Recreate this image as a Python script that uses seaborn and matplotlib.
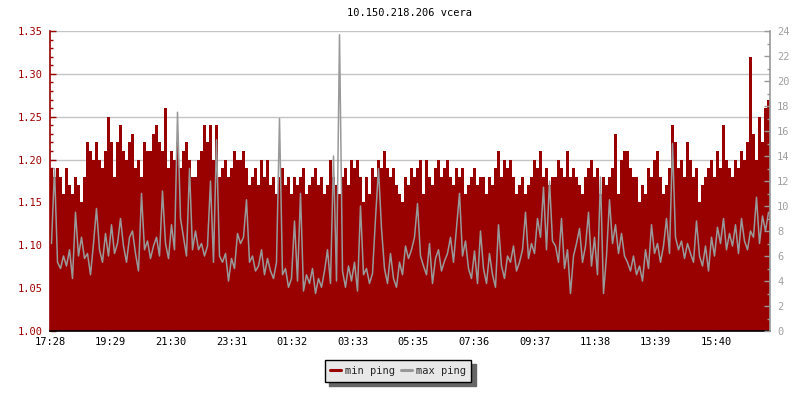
import numpy as np
import pandas as pd
import matplotlib
matplotlib.use("Agg")
import matplotlib.pyplot as plt
from matplotlib.lines import Line2D
from matplotlib.ticker import MultipleLocator
import seaborn as sns

title = "10.150.218.206 vcera"
tick_labels = ["17:28", "19:29", "21:30", "23:31", "01:32", "03:33",
               "05:35", "07:36", "09:37", "11:38", "13:39", "15:40"]
series_names = ["min ping", "max ping"]

# min ping (ms, left axis), one value per 6-minute slot over 24 h
min_ping = [
    1.19, 1.18, 1.19, 1.18, 1.16, 1.19, 1.17, 1.16, 1.18, 1.17, 1.15, 1.18,
    1.22, 1.21, 1.20, 1.22, 1.20, 1.19, 1.21, 1.25, 1.22, 1.18, 1.22, 1.24,
    1.21, 1.20, 1.22, 1.23, 1.19, 1.20, 1.18, 1.22, 1.21, 1.21, 1.23, 1.24,
    1.22, 1.21, 1.26, 1.19, 1.21, 1.20, 1.22, 1.19, 1.21, 1.22, 1.20, 1.18,
    1.18, 1.20, 1.21, 1.24, 1.22, 1.24, 1.20, 1.24, 1.18, 1.19, 1.20, 1.18,
    1.19, 1.21, 1.20, 1.20, 1.21, 1.19, 1.17, 1.18, 1.19, 1.17, 1.20, 1.18,
    1.20, 1.17, 1.18, 1.16, 1.18, 1.19, 1.17, 1.18, 1.16, 1.18, 1.17, 1.18,
    1.19, 1.16, 1.17, 1.18, 1.19, 1.17, 1.18, 1.16, 1.17, 1.20, 1.18, 1.17,
    1.16, 1.18, 1.19, 1.17, 1.20, 1.19, 1.20, 1.18, 1.15, 1.18, 1.16, 1.19,
    1.18, 1.20, 1.19, 1.21, 1.19, 1.18, 1.19, 1.17, 1.16, 1.15, 1.18, 1.17,
    1.19, 1.18, 1.19, 1.20, 1.16, 1.20, 1.18, 1.17, 1.19, 1.20, 1.18, 1.19,
    1.20, 1.18, 1.17, 1.19, 1.18, 1.19, 1.16, 1.17, 1.18, 1.19, 1.17, 1.18,
    1.18, 1.16, 1.18, 1.17, 1.19, 1.21, 1.18, 1.20, 1.19, 1.20, 1.18, 1.16,
    1.17, 1.18, 1.16, 1.17, 1.18, 1.20, 1.19, 1.21, 1.18, 1.19, 1.17, 1.18,
    1.18, 1.20, 1.19, 1.18, 1.21, 1.18, 1.19, 1.18, 1.17, 1.16, 1.18, 1.19,
    1.20, 1.18, 1.19, 1.16, 1.18, 1.17, 1.18, 1.19, 1.23, 1.16, 1.20, 1.21,
    1.21, 1.19, 1.18, 1.18, 1.15, 1.17, 1.16, 1.19, 1.18, 1.20, 1.21, 1.18,
    1.16, 1.17, 1.19, 1.24, 1.22, 1.19, 1.20, 1.18, 1.22, 1.20, 1.18, 1.19,
    1.15, 1.17, 1.18, 1.19, 1.20, 1.18, 1.21, 1.19, 1.24, 1.20, 1.19, 1.18,
    1.20, 1.19, 1.21, 1.20, 1.22, 1.32, 1.23, 1.20, 1.25, 1.22, 1.26, 1.27,
]

# max ping (ms, right axis), same slots
max_ping = [
    7.0, 13.0, 5.5, 5.0, 6.0, 5.2, 6.5, 4.2, 9.5, 6.0, 7.5, 5.8,
    6.2, 4.5, 7.0, 9.8, 6.5, 5.5, 7.8, 6.0, 8.5, 6.2, 7.0, 9.0,
    6.8, 5.5, 7.5, 8.0, 6.2, 4.8, 11.0, 6.5, 7.2, 5.8, 6.8, 7.5,
    6.0, 11.2, 7.0, 5.8, 8.5, 6.5, 17.5, 9.0, 7.5, 6.0, 13.0, 6.5,
    8.0, 6.5, 7.0, 6.0, 6.8, 12.0, 5.5, 15.3, 6.0, 5.5, 6.2, 4.0,
    5.8, 5.0, 7.8, 7.0, 7.5, 10.5, 5.5, 6.0, 4.8, 5.2, 6.5, 4.5,
    5.8, 4.8, 4.2, 5.5, 17.0, 4.5, 5.0, 3.5, 4.2, 8.8, 4.0, 11.0,
    3.2, 4.5, 3.8, 5.0, 3.0, 4.2, 3.5, 4.8, 6.5, 3.8, 14.0, 4.0,
    23.7, 4.8, 3.5, 5.2, 4.0, 5.5, 3.2, 10.0, 4.5, 5.0, 3.8, 4.6,
    9.0, 13.0, 8.2, 5.0, 3.8, 6.2, 4.2, 3.5, 5.5, 4.5, 6.8, 5.8,
    6.5, 7.5, 10.2, 6.0, 5.2, 4.5, 7.0, 3.8, 5.8, 6.5, 4.8, 5.6,
    6.2, 7.5, 5.5, 8.3, 11.0, 6.0, 7.2, 5.0, 4.2, 6.4, 3.8, 8.0,
    5.0, 3.8, 6.2, 4.5, 3.5, 8.5, 5.2, 4.2, 6.0, 5.5, 6.8, 4.8,
    5.5, 6.5, 9.5, 5.8, 7.0, 6.2, 9.0, 7.5, 11.5, 6.5, 12.0, 7.2,
    6.8, 5.5, 9.0, 5.0, 6.5, 3.0, 6.0, 7.0, 8.2, 5.5, 6.8, 9.5,
    5.2, 7.5, 4.5, 12.3, 3.0, 6.0, 10.5, 7.0, 8.5, 6.2, 7.8, 6.0,
    5.5, 4.8, 6.0, 4.5, 5.2, 4.0, 6.5, 5.0, 8.5, 6.2, 7.0, 5.5,
    6.8, 9.0, 6.2, 15.0, 7.5, 6.5, 7.2, 5.8, 7.0, 6.2, 5.5, 8.8,
    6.0, 5.2, 6.8, 4.8, 7.5, 6.0, 8.3, 7.0, 9.0, 6.5, 7.8, 6.8,
    8.5, 6.2, 9.0, 7.2, 6.5, 8.0, 7.5, 10.7, 7.0, 9.2, 8.0, 9.5,
]

# ---- style ----
sns.set_theme(style="white")
FS = 7.5
plt.rcParams["font.family"] = ["DejaVu Sans Mono"]
plt.rcParams["font.size"] = FS
plt.rcParams["xtick.labelsize"] = FS
plt.rcParams["ytick.labelsize"] = FS
plt.rcParams["legend.fontsize"] = FS

RED = "#990000"
RED_TXT = "#a00000"
GRAY = "#999999"
GRID = "#c4c4c4"

slot = 1440 / len(min_ping)
edges = np.arange(len(min_ping) + 1) * slot
df = pd.DataFrame({"t": edges[:-1] + slot / 2, "min": min_ping, "max": max_ping})

def to_min(lbl, start="17:28"):
    h, m = map(int, lbl.split(":"))
    h0, m0 = map(int, start.split(":"))
    return ((h * 60 + m) - (h0 * 60 + m0)) % 1440

tick_pos = [to_min(l) for l in tick_labels]

fig = plt.figure(figsize=(8, 4), dpi=100)
fig.patch.set_facecolor("white")
ax = fig.add_axes([50 / 800, 1 - 331 / 400, 720 / 800, 300 / 400])
ax.set_facecolor("white")

ax.fill_between(edges, 1.0, list(min_ping) + [min_ping[-1]], step="post",
                color=RED, linewidth=0, zorder=2)
ax.set_xlim(0, 1440)
ax.set_ylim(1.0, 1.35)
ax.yaxis.set_major_locator(MultipleLocator(0.05))
ax.yaxis.set_minor_locator(MultipleLocator(0.01))
ax.yaxis.set_major_formatter(matplotlib.ticker.FormatStrFormatter("%.2f"))
ax.set_xticks(tick_pos)
ax.set_xticklabels(tick_labels)
ax.grid(axis="y", which="major", color=GRID, linewidth=1.0, zorder=0)
ax.set_axisbelow(True)
ax.tick_params(axis="y", which="major", direction="in", length=4, width=1,
               color=RED, labelcolor=RED_TXT, pad=5, left=True, labelsize=FS)
ax.tick_params(axis="y", which="minor", direction="in", length=2.5, width=1,
               color=RED, left=True)
ax.tick_params(axis="x", which="major", direction="in", length=4, width=1,
               color="black", labelcolor="black", pad=4, bottom=True,
               labelsize=FS)
for s in ["top", "right"]:
    ax.spines[s].set_visible(False)
ax.spines["left"].set_color(RED)
ax.spines["left"].set_linewidth(1.2)
ax.spines["bottom"].set_color("black")
ax.spines["bottom"].set_linewidth(1.2)
ax.set_xlabel("")
ax.set_ylabel("")

ax2 = ax.twinx()
sns.lineplot(data=df, x="t", y="max", ax=ax2, color=GRAY, linewidth=1.1,
             zorder=3, legend=False)
ax2.set_ylim(0, 24)
ax2.set_xlim(0, 1440)
ax2.yaxis.set_major_locator(MultipleLocator(2))
ax2.yaxis.set_minor_locator(MultipleLocator(1))
ax2.tick_params(axis="y", which="major", direction="in", length=4, width=1,
                color=GRAY, labelcolor="#a0a0a0", pad=5, right=True,
                labelsize=FS)
ax2.tick_params(axis="y", which="minor", direction="in", length=2.5, width=1,
                color=GRAY, right=True)
for s in ["top", "left", "bottom"]:
    ax2.spines[s].set_visible(False)
ax2.spines["right"].set_color(GRAY)
ax2.spines["right"].set_linewidth(1.2)
ax2.set_xlabel("")
ax2.set_ylabel("")

fig.text(410 / 800, 1 - 13 / 400, title, ha="center", va="center",
         fontsize=FS, color="black")

handles = [Line2D([], [], color=RED, linewidth=2.2),
           Line2D([], [], color=GRAY, linewidth=2.2)]
leg_kw = dict(loc="center", bbox_to_anchor=(398 / 800, 1 - 371 / 400), ncol=2,
              frameon=True, fancybox=False, handlelength=1.0, handletextpad=0.4,
              columnspacing=0.6, borderpad=0.55, fontsize=FS,
              facecolor="#e8e8e8", edgecolor="black", framealpha=1)
try:
    leg = fig.legend(handles, series_names,
                     shadow={"ox": 3, "oy": -3, "color": "#666666", "alpha": 1},
                     **leg_kw)
except Exception:
    leg = fig.legend(handles, series_names, shadow=True, **leg_kw)
leg.get_frame().set_linewidth(1.0)

fig.savefig("out.png", dpi=100, facecolor="white")
